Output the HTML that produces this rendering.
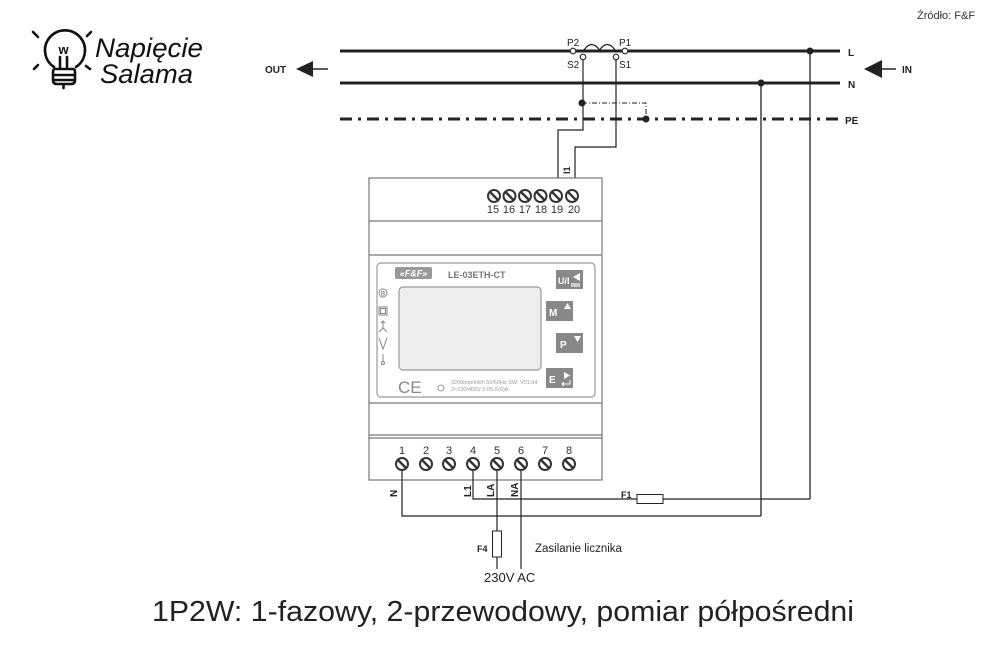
<!DOCTYPE html>
<html>
<head>
<meta charset="utf-8">
<style>
html,body{margin:0;padding:0;background:#fff;}
svg{display:block;}
text{font-family:"Liberation Sans",sans-serif;}
</style>
</head>
<body>
<svg width="1000" height="667" viewBox="0 0 1000 667" xmlns="http://www.w3.org/2000/svg">
<rect width="1000" height="667" fill="#fff"/>

<!-- Source -->
<text x="917" y="19" font-size="11" fill="#333">Źródło: F&amp;F</text>

<!-- Logo -->
<g stroke="#111" stroke-width="2.6" stroke-linecap="round" fill="none">
  <line x1="33" y1="32" x2="38" y2="37"/>
  <line x1="34" y1="69" x2="38" y2="65"/>
  <line x1="91" y1="32" x2="87" y2="36"/>
  <line x1="86" y1="66" x2="90" y2="69"/>
  <path d="M54,67 A20,20 0 1 1 76,67"/>
  <line x1="60" y1="57" x2="60" y2="67"/>
  <line x1="67" y1="57" x2="67" y2="67"/>
  <path d="M55,69 H73 Q75,69 75,72 V80 Q75,84 71,84 H57 Q53,84 53,80 V72 Q53,69 55,69 Z"/>
  <line x1="54" y1="75" x2="74" y2="75"/>
  <line x1="54" y1="80" x2="74" y2="80"/>
  <line x1="63.5" y1="85" x2="63.5" y2="88"/>
</g>
<text x="63.5" y="54" font-size="13" font-weight="bold" text-anchor="middle" fill="#111">w</text>
<text x="95" y="57" font-size="27" font-style="italic" fill="#111" textLength="108" lengthAdjust="spacingAndGlyphs">Napięcie</text>
<text x="100" y="83" font-size="27" font-style="italic" fill="#111" textLength="93" lengthAdjust="spacingAndGlyphs">Salama</text>

<!-- OUT arrow -->
<text x="265" y="73" font-size="10" font-weight="bold" fill="#222">OUT</text>
<polygon points="296,69 313,61 313,77" fill="#222"/>
<line x1="312" y1="69" x2="328" y2="69" stroke="#222" stroke-width="1.5"/>

<!-- IN arrow -->
<polygon points="864,69 882,60 882,78" fill="#222"/>
<line x1="881" y1="69" x2="896" y2="69" stroke="#222" stroke-width="1.5"/>
<text x="902" y="73" font-size="10" font-weight="bold" fill="#222">IN</text>

<!-- Main lines -->
<line x1="340" y1="51" x2="840" y2="51" stroke="#222" stroke-width="3"/>
<line x1="340" y1="83" x2="840" y2="83" stroke="#222" stroke-width="3"/>
<line x1="340" y1="119" x2="840" y2="119" stroke="#222" stroke-width="3" stroke-dasharray="12 6 3 6"/>
<text x="848" y="56" font-size="10" font-weight="bold" fill="#222">L</text>
<text x="848" y="88" font-size="10" font-weight="bold" fill="#222">N</text>
<text x="845" y="124" font-size="10" font-weight="bold" fill="#222">PE</text>

<!-- Right verticals -->
<line x1="810" y1="51" x2="810" y2="499" stroke="#222" stroke-width="1.3"/>
<line x1="761" y1="83" x2="761" y2="516" stroke="#222" stroke-width="1.3"/>
<circle cx="810" cy="51" r="3.5" fill="#222"/>
<circle cx="761" cy="83" r="3.5" fill="#222"/>

<!-- CT -->
<path d="M584,50 Q591.5,39 599.5,50 Q607.5,39 615,50" stroke="#222" stroke-width="1.2" fill="none"/>
<g stroke="#222" stroke-width="1.1" fill="#fff">
  <circle cx="573" cy="51" r="2.8"/>
  <circle cx="625" cy="51" r="2.8"/>
  <circle cx="583" cy="57" r="2.8"/>
  <circle cx="616" cy="57" r="2.8"/>
</g>
<text x="567" y="46" font-size="10" fill="#222">P2</text>
<text x="619" y="46" font-size="10" fill="#222">P1</text>
<text x="567" y="68" font-size="10" fill="#222">S2</text>
<text x="619" y="68" font-size="10" fill="#222">S1</text>

<!-- CT wires -->
<path d="M583,60 V130 H558 V178" stroke="#222" stroke-width="1.2" fill="none"/>
<path d="M616,60 V147 H575 V178" stroke="#222" stroke-width="1.2" fill="none"/>
<path d="M582,103 H646 V119" stroke="#222" stroke-width="1" fill="none" stroke-dasharray="5 2 1 2"/>
<circle cx="582" cy="103" r="3.5" fill="#222"/>
<circle cx="646" cy="119" r="3.5" fill="#222"/>
<text x="0" y="0" font-size="9" font-weight="bold" fill="#222" transform="translate(570,174) rotate(-90)">I1</text>

<!-- Meter body -->
<g stroke="#777" stroke-width="1.2" fill="none">
  <rect x="369" y="178" width="233" height="302" fill="#fff"/>
  <line x1="369" y1="221" x2="602" y2="221"/>
  <line x1="369" y1="255" x2="602" y2="255"/>
  <line x1="369" y1="403" x2="602" y2="403"/>
  <line x1="369" y1="435" x2="602" y2="435"/>
  <line x1="369" y1="438" x2="602" y2="438"/>
</g>

<!-- Top terminals -->
<g stroke="#333" fill="#fff">
  <circle cx="494" cy="196" r="6" stroke-width="2"/>
  <circle cx="509.5" cy="196" r="6" stroke-width="2"/>
  <circle cx="525" cy="196" r="6" stroke-width="2"/>
  <circle cx="540.5" cy="196" r="6" stroke-width="2"/>
  <circle cx="556" cy="196" r="6" stroke-width="2"/>
  <circle cx="572" cy="196" r="6" stroke-width="2"/>
</g>
<g stroke="#333" stroke-width="2.4">
  <line x1="490" y1="192" x2="498" y2="200"/>
  <line x1="505.5" y1="192" x2="513.5" y2="200"/>
  <line x1="521" y1="192" x2="529" y2="200"/>
  <line x1="536.5" y1="192" x2="544.5" y2="200"/>
  <line x1="552" y1="192" x2="560" y2="200"/>
  <line x1="568" y1="192" x2="576" y2="200"/>
</g>
<g font-size="11" fill="#333" text-anchor="middle">
  <text x="493" y="213">15</text>
  <text x="509" y="213">16</text>
  <text x="525" y="213">17</text>
  <text x="541" y="213">18</text>
  <text x="557" y="213">19</text>
  <text x="574" y="213">20</text>
</g>

<!-- Front panel -->
<rect x="377" y="263" width="218" height="134" rx="4" fill="#fff" stroke="#999" stroke-width="1.2"/>
<rect x="395" y="267" width="37" height="12" rx="2" fill="#999"/>
<text x="413.5" y="276.5" font-size="9" font-weight="bold" font-style="italic" fill="#fff" text-anchor="middle">«F&amp;F»</text>
<text x="448" y="278" font-size="9" font-weight="bold" fill="#777">LE-03ETH-CT</text>
<rect x="399" y="287" width="142" height="83" rx="4" fill="#eee" stroke="#999" stroke-width="1.2"/>

<!-- left icons -->
<g stroke="#888" stroke-width="1" fill="none">
  <circle cx="383" cy="293" r="4"/>
  <rect x="379" y="307" width="8" height="8"/>
  <rect x="380.5" y="308.5" width="5" height="5"/>
  <path d="M383,321 V328 M383,328 L379,332 M383,328 L387,332 M381,323 L383,321 L385,323"/>
  <path d="M379,338 L383,349 L387,338"/>
  <path d="M383,354 V361"/>
  <circle cx="383" cy="363" r="1.5"/>
</g>
<text x="383" y="295.5" font-size="6" font-weight="bold" fill="#888" text-anchor="middle">B</text>
<text x="398" y="393" font-size="17" fill="#888">CE</text>
<circle cx="441" cy="388" r="3" stroke="#999" stroke-width="1" fill="none"/>
<text x="451" y="384" font-size="5.5" fill="#999">3200imp/kWh 50/60Hz SW: V01.04</text>
<text x="451" y="391" font-size="5.5" fill="#999">3×230/400V  0.05-5(6)A</text>

<!-- Buttons -->
<rect x="556" y="270" width="27" height="19" fill="#888"/>
<text x="558" y="284" font-size="9" font-weight="bold" fill="#fff">U/I</text>
<polygon points="573,277 580,273 580,281" fill="#fff"/>
<rect x="571" y="283" width="9" height="4" fill="#ccc"/>

<rect x="546" y="301" width="27" height="20" fill="#888"/>
<text x="549" y="316" font-size="10" font-weight="bold" fill="#fff">M</text>
<polygon points="564,309 567.5,303 571,309" fill="#fff"/>

<rect x="556" y="333" width="27" height="20" fill="#888"/>
<text x="560" y="348" font-size="10" font-weight="bold" fill="#fff">P</text>
<polygon points="574,336 577.5,342 581,336" fill="#fff"/>

<rect x="546" y="368" width="27" height="20" fill="#888"/>
<text x="549" y="383" font-size="10" font-weight="bold" fill="#fff">E</text>
<polygon points="564,372 570,375.5 564,379" fill="#fff"/>
<path d="M570,380 V384 H562 M564,382 L562,384 L564,386" stroke="#fff" stroke-width="1" fill="none"/>

<!-- Bottom terminals -->
<g font-size="11" fill="#333" text-anchor="middle">
  <text x="402" y="454">1</text>
  <text x="426" y="454">2</text>
  <text x="449" y="454">3</text>
  <text x="473" y="454">4</text>
  <text x="497" y="454">5</text>
  <text x="521" y="454">6</text>
  <text x="545" y="454">7</text>
  <text x="569" y="454">8</text>
</g>

<!-- External wiring from bottom -->
<g stroke="#222" stroke-width="1.2" fill="none">
  <path d="M402,464 V516 H761"/>
  <path d="M473,464 V499 H637"/>
  <line x1="663" y1="499" x2="810" y2="499"/>
  <line x1="497" y1="464" x2="497" y2="531"/>
  <line x1="497" y1="557" x2="497" y2="569"/>
  <line x1="521" y1="464" x2="521" y2="569"/>
</g>
<rect x="637" y="494.5" width="26" height="9" fill="#fff" stroke="#222" stroke-width="1"/>
<rect x="492.5" y="531" width="9" height="26" fill="#fff" stroke="#222" stroke-width="1"/>

<g stroke="#333" fill="#fff">
  <circle cx="402" cy="464" r="6" stroke-width="2"/>
  <circle cx="426" cy="464" r="6" stroke-width="2"/>
  <circle cx="449" cy="464" r="6" stroke-width="2"/>
  <circle cx="473" cy="464" r="6" stroke-width="2"/>
  <circle cx="497" cy="464" r="6" stroke-width="2"/>
  <circle cx="521" cy="464" r="6" stroke-width="2"/>
  <circle cx="545" cy="464" r="6" stroke-width="2"/>
  <circle cx="569" cy="464" r="6" stroke-width="2"/>
</g>
<g stroke="#333" stroke-width="2.4">
  <line x1="398" y1="460" x2="406" y2="468"/>
  <line x1="422" y1="460" x2="430" y2="468"/>
  <line x1="445" y1="460" x2="453" y2="468"/>
  <line x1="469" y1="460" x2="477" y2="468"/>
  <line x1="493" y1="460" x2="501" y2="468"/>
  <line x1="517" y1="460" x2="525" y2="468"/>
  <line x1="541" y1="460" x2="549" y2="468"/>
  <line x1="565" y1="460" x2="573" y2="468"/>
</g>

<!-- rotated labels -->
<g font-size="10" font-weight="bold" fill="#222">
  <text transform="translate(397,497) rotate(-90)">N</text>
  <text transform="translate(471,497) rotate(-90)">L1</text>
  <text transform="translate(494,497) rotate(-90)">LA</text>
  <text transform="translate(518,497) rotate(-90)">NA</text>
</g>

<text x="621" y="498" font-size="9" font-weight="bold" fill="#222">F1</text>
<text x="477" y="552" font-size="9" font-weight="bold" fill="#222">F4</text>
<text x="535" y="552" font-size="11.5" fill="#222">Zasilanie licznika</text>
<text x="484" y="582" font-size="13" fill="#222">230V AC</text>

<!-- Title -->
<text x="152" y="621" font-size="29" fill="#222" textLength="702" lengthAdjust="spacingAndGlyphs">1P2W: 1-fazowy, 2-przewodowy, pomiar półpośredni</text>
</svg>
</body>
</html>
